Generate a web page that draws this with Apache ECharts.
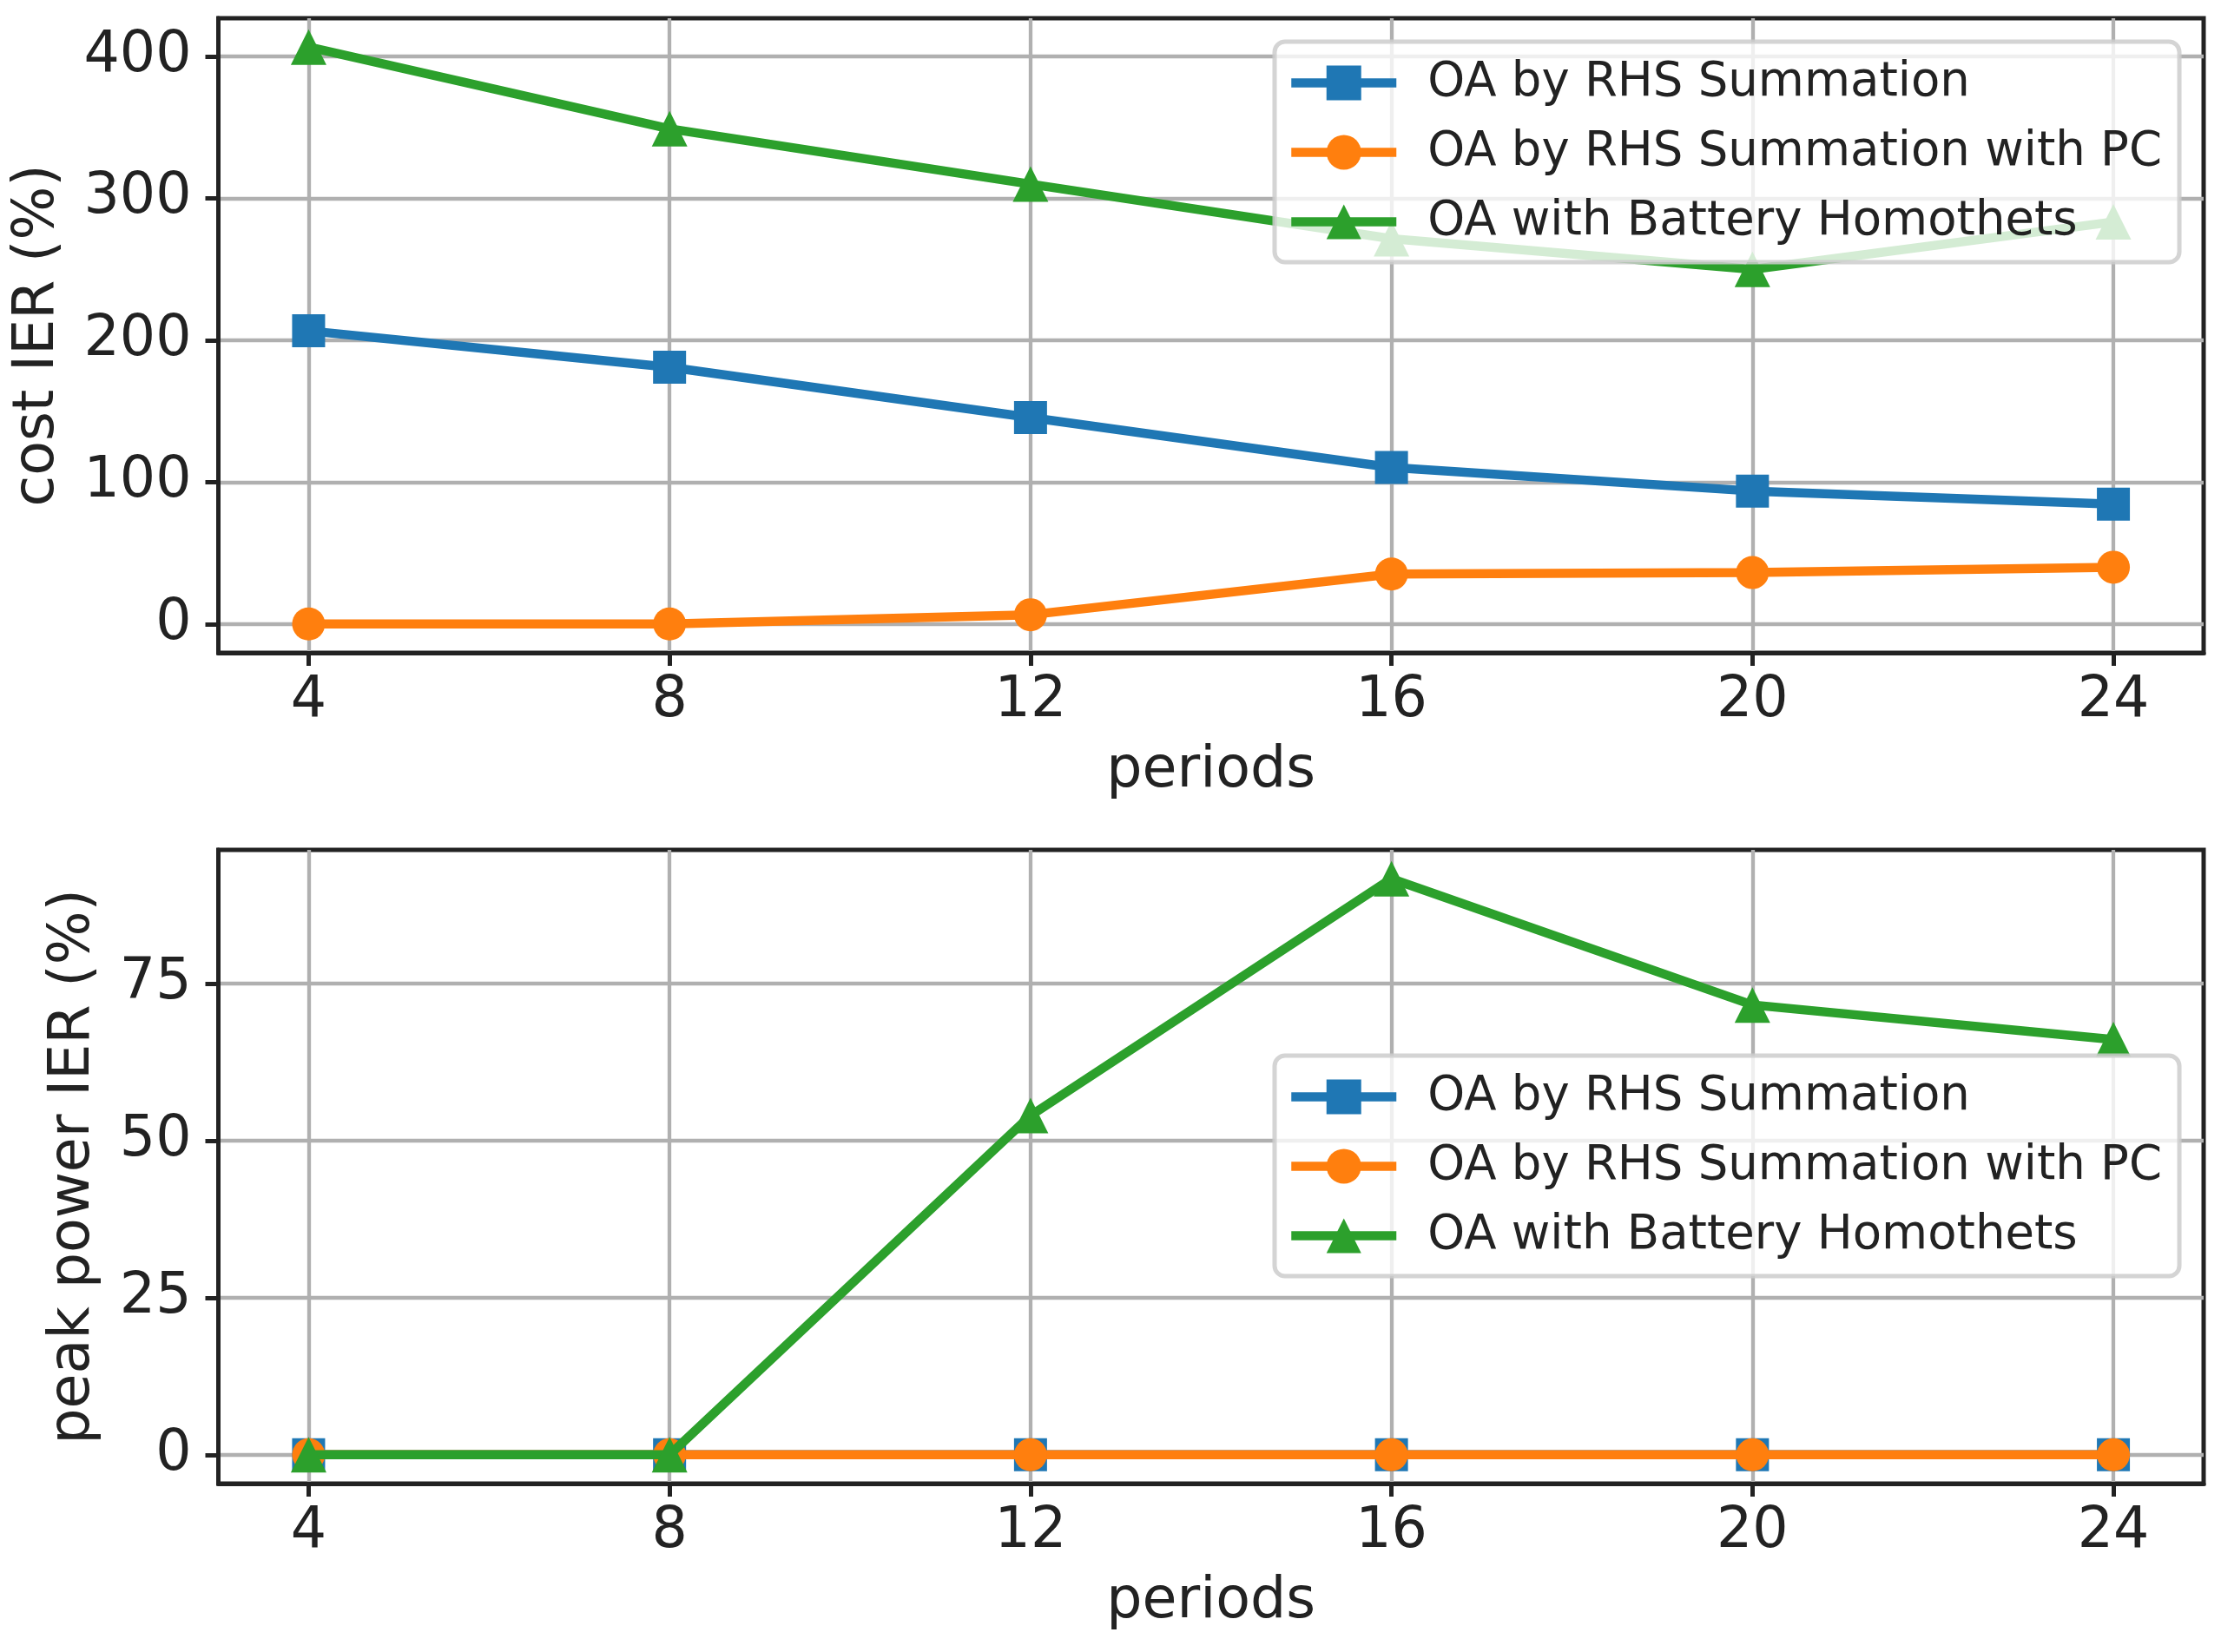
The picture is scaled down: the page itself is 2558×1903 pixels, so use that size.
<!DOCTYPE html>
<html>
<head>
<meta charset="utf-8">
<script src="https://cdn.jsdelivr.net/npm/echarts@6/dist/echarts.min.js"></script>
<style>
html,body{margin:0;padding:0;background:#fff;}
#chart{width:2558px;height:1903px;}
</style>
</head>
<body>
<div id="chart"></div>
<script>
// ---- data ----
const periods = [4, 8, 12, 16, 20, 24];
const seriesNames = ['OA by RHS Summation', 'OA by RHS Summation with PC', 'OA with Battery Homothets'];
const costRhs = [206.6, 181, 145.5, 110.3, 93.7, 84.4];
const costRhsPc = [0, 0, 6.5, 35.2, 36.2, 40.0];
const costBattery = [406.6, 349, 310, 271.5, 250, 283.4];
const peakRhs = [0, 0, 0, 0, 0, 0];
const peakRhsPc = [0, 0, 0, 0, 0, 0];
const peakBattery = [0, 0, 54.0, 91.7, 71.6, 66.1];
const xTicks = [4, 8, 12, 16, 20, 24];
const costTicks = [0, 100, 200, 300, 400];
const peakTicks = [0, 25, 50, 75];

// ---- styling ----
const FONT = 'DejaVu Sans';
const TXT = '#222222';
const colors = ['#1f77b4', '#ff7f0e', '#2ca02c'];
const symbols = ['rect', 'circle', 'triangle'];
const symbolSizes = [38, 38, 41];
const LW = 10.5;

function pairs(xs, ys) { return xs.map((x, i) => [x, ys[i]]); }

function xAxis(gridIndex) {
  return {
    type: 'value', gridIndex, min: 3, max: 25,
    name: 'periods', nameLocation: 'middle', nameGap: 105,
    nameTextStyle: { fontFamily: FONT, fontSize: 65, color: TXT },
    axisLine: { show: true, onZero: false, lineStyle: { color: TXT, width: 5 } },
    axisTick: { show: true, length: 15, customValues: xTicks, lineStyle: { color: TXT, width: 5 } },
    axisLabel: { customValues: xTicks, margin: 24, fontFamily: FONT, fontSize: 65, color: TXT },
    splitLine: { show: true, lineStyle: { color: '#b0b0b0', width: 4.3 } }
  };
}
function yAxis(gridIndex, min, max, ticks, name, gap) {
  return {
    type: 'value', gridIndex, min, max,
    name, nameLocation: 'middle', nameGap: gap,
    nameTextStyle: { fontFamily: FONT, fontSize: 65, color: TXT },
    axisLine: { show: true, onZero: false, lineStyle: { color: TXT, width: 5 } },
    axisTick: { show: true, length: 15, customValues: ticks, lineStyle: { color: TXT, width: 5 } },
    axisLabel: { customValues: ticks, margin: 31, fontFamily: FONT, fontSize: 65, color: TXT },
    splitLine: { show: true, lineStyle: { color: '#b0b0b0', width: 4.3 } }
  };
}
function mkSeries(idx, axisIndex, values) {
  return {
    type: 'line', name: seriesNames[idx], xAxisIndex: axisIndex, yAxisIndex: axisIndex,
    data: pairs(periods, values),
    symbol: symbols[idx], symbolSize: symbolSizes[idx], showAllSymbol: true,
    lineStyle: { color: colors[idx], width: LW },
    itemStyle: { color: colors[idx], opacity: 1 },
    emphasis: { disabled: true },
    animation: false, z: 2 + idx * 0.1
  };
}
function legend(top) {
  return {
    orient: 'vertical', left: 1468, top,
    itemWidth: 121, itemHeight: 50, itemGap: 25,
    padding: [20, 20, 19, 14],
    backgroundColor: 'rgba(255,255,255,0.8)',
    borderColor: 'rgba(204,204,204,0.85)', borderWidth: 5, borderRadius: 12,
    lineStyle: { width: LW },
    textStyle: { fontFamily: FONT, fontSize: 54.5, lineHeight: 55, color: TXT, padding: [0, 0, 0, 31] },
    data: seriesNames,
    selectedMode: false
  };
}

const chart = echarts.init(document.getElementById('chart'), null, { renderer: 'canvas' });
chart.setOption({
  backgroundColor: '#ffffff',
  animation: false,
  grid: [
    { left: 251.5, right: 20, top: 21, height: 731, show: true, borderColor: TXT, borderWidth: 5, backgroundColor: 'transparent' },
    { left: 251.5, right: 20, top: 979, height: 730, show: true, borderColor: TXT, borderWidth: 5, backgroundColor: 'transparent' }
  ],
  xAxis: [xAxis(0), xAxis(1)],
  yAxis: [
    yAxis(0, -20.33, 426.93, costTicks, 'cost IER (%)', 175),
    yAxis(1, -4.585, 96.285, peakTicks, 'peak power IER (%)', 134)
  ],
  legend: [legend(48), legend(1216)],
  series: [
    mkSeries(0, 0, costRhs), mkSeries(1, 0, costRhsPc), mkSeries(2, 0, costBattery),
    mkSeries(0, 1, peakRhs), mkSeries(1, 1, peakRhsPc), mkSeries(2, 1, peakBattery)
  ]
});
</script>
</body>
</html>
